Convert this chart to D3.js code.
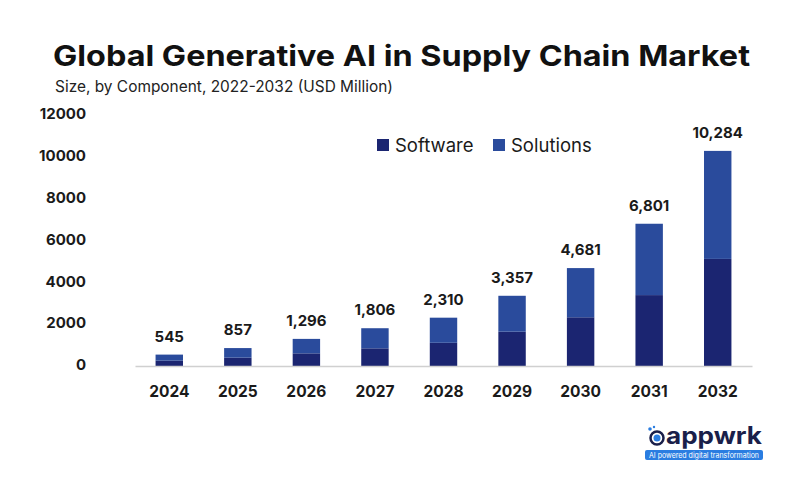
<!DOCTYPE html>
<html>
<head>
<meta charset="utf-8">
<script src="https://cdn.jsdelivr.net/npm/d3@7/dist/d3.min.js"></script>
<style>
  html, body { margin: 0; padding: 0; background: #fff; }
  svg { display: block; }
</style>
</head>
<body>
<svg id="chart" width="800" height="485"></svg>
<script>
const years = ["2024","2025","2026","2027","2028","2029","2030","2031","2032"];
const totals = [545, 857, 1296, 1806, 2310, 3357, 4681, 6801, 10284];
const software = [255, 400, 605, 845, 1110, 1640, 2330, 3390, 5120];
const solutions = totals.map((t, i) => t - software[i]);
const yTicks = [0, 2000, 4000, 6000, 8000, 10000, 12000];
const seriesNames = ["Software", "Solutions"];
const colors = ["#1b2571", "#2a4b9c"];

const svg = d3.select("#chart");
const font = "Inter, 'Open Sans', sans-serif";

// Title
svg.append("text")
  .attr("x", 53).attr("y", 66)
  .attr("font-family", font).attr("font-weight", 700)
  .attr("font-size", 29).attr("fill", "#111")
  .attr("textLength", 697).attr("lengthAdjust", "spacingAndGlyphs")
  .text("Global Generative AI in Supply Chain Market");
svg.append("text")
  .attr("x", 55).attr("y", 92)
  .attr("font-family", font).attr("font-weight", 400)
  .attr("font-size", 15.5).attr("fill", "#222")
  .attr("textLength", 338).attr("lengthAdjust", "spacingAndGlyphs")
  .text("Size, by Component, 2022-2032 (USD Million)");

const x = d3.scaleBand().domain(years).range([135, 752]).paddingInner(0.6).paddingOuter(0.3);
const y = d3.scaleLinear().domain([0, 12000]).range([366, 115]);

// Y tick labels
const yAxis = d3.axisLeft(y).tickValues(yTicks).tickSize(0).tickPadding(0).tickFormat(d3.format("d"));
const gy = svg.append("g").attr("transform", "translate(86,-1)").call(yAxis);
gy.select(".domain").remove();
gy.selectAll("text").attr("font-family", font).attr("font-weight", 700)
  .attr("font-size", 15).attr("fill", "#1a1a1a");

// Stacked bars
const rows = years.map((yr, i) => ({ year: yr, Software: software[i], Solutions: solutions[i] }));
const stack = d3.stack().keys(seriesNames)(rows);
svg.append("g").selectAll("g").data(stack).join("g")
  .attr("fill", (d, i) => colors[i])
  .selectAll("rect").data(d => d).join("rect")
  .attr("x", d => x(d.data.year))
  .attr("width", x.bandwidth())
  .attr("y", d => y(d[1]))
  .attr("height", d => y(d[0]) - y(d[1]));

// X axis
const xAxis = d3.axisBottom(x).tickSize(0).tickPadding(20);
const gx = svg.append("g").attr("transform", "translate(0,366)").call(xAxis);
gx.select(".domain").attr("stroke", "#d0d0d0").attr("stroke-width", 1.5);
gx.selectAll("text").attr("font-family", font).attr("font-weight", 700)
  .attr("font-size", 15.5).attr("fill", "#1a1a1a");

// Value labels
svg.append("g").selectAll("text").data(years).join("text")
  .attr("x", d => x(d) + x.bandwidth() / 2)
  .attr("y", (d, i) => y(totals[i]) - 13)
  .attr("text-anchor", "middle")
  .attr("font-family", font).attr("font-weight", 700)
  .attr("font-size", 15).attr("fill", "#1a1a1a")
  .text((d, i) => d3.format(",")(totals[i]));

// Legend
const legendX = [377, 493];
const lg = svg.append("g").selectAll("g").data(seriesNames).join("g")
  .attr("transform", (d, i) => `translate(${legendX[i]},139)`);
lg.append("rect").attr("width", 12).attr("height", 12).attr("fill", (d, i) => colors[i]);
lg.append("text").attr("x", 18).attr("y", 12.5)
  .attr("font-family", font).attr("font-size", 18.5).attr("fill", "#1a1a1a")
  .text(d => d);

// Logo
const logo = svg.append("g");
logo.append("circle").attr("cx", 657).attr("cy", 438).attr("r", 6.5)
  .attr("fill", "none").attr("stroke", "#1a1f4a").attr("stroke-width", 2.5);
logo.append("circle").attr("cx", 657).attr("cy", 438).attr("r", 3.5).attr("fill", "#2a7de1");
logo.append("circle").attr("cx", 650).attr("cy", 429).attr("r", 1.8).attr("fill", "#2a7de1");
logo.append("circle").attr("cx", 654).attr("cy", 427).attr("r", 1.2).attr("fill", "#2a7de1");
logo.append("text").attr("x", 666).attr("y", 444)
  .attr("font-family", font).attr("font-weight", 700).attr("font-size", 24)
  .attr("fill", "#1a1f4a").attr("textLength", 96).attr("lengthAdjust", "spacingAndGlyphs")
  .text("appwrk");
logo.append("rect").attr("x", 645).attr("y", 450).attr("width", 118).attr("height", 10)
  .attr("rx", 2).attr("fill", "#2a7de1");
logo.append("text").attr("x", 704).attr("y", 458).attr("text-anchor", "middle")
  .attr("font-family", font).attr("font-size", 7.5).attr("fill", "#fff")
  .attr("textLength", 110).attr("lengthAdjust", "spacingAndGlyphs")
  .text("AI powered digital transformation");
</script>
</body>
</html>
